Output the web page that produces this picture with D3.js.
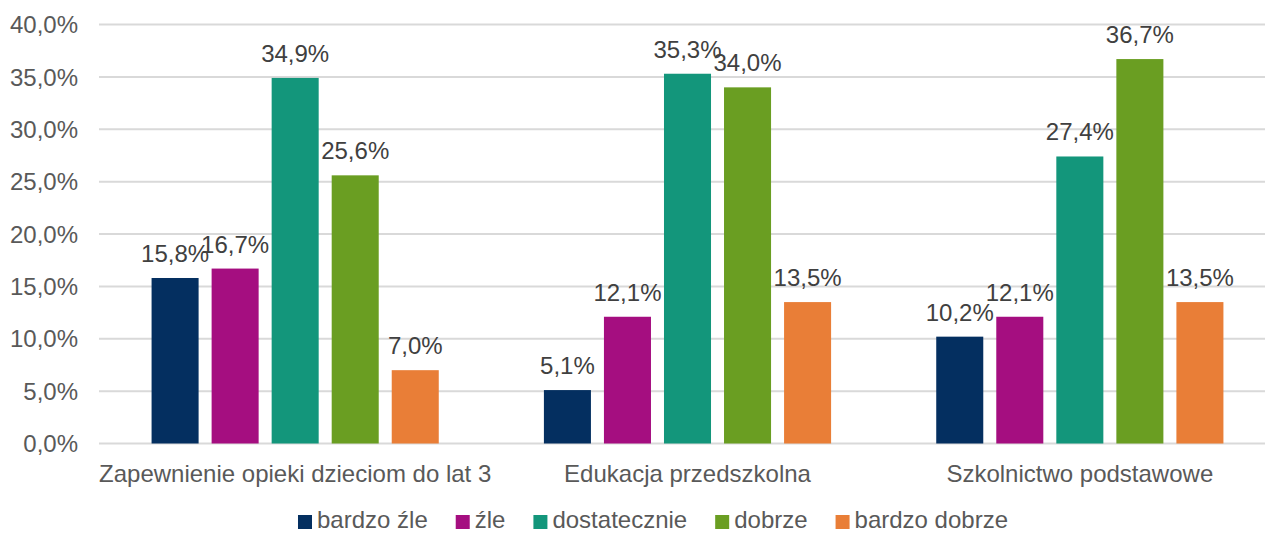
<!DOCTYPE html>
<html>
<head>
<meta charset="utf-8">
<script src="https://cdnjs.cloudflare.com/ajax/libs/d3/7.8.5/d3.min.js"></script>
<style>
  body { margin: 0; background: #fff; }
  text { font-family: "Liberation Sans", Arial, sans-serif; }
</style>
</head>
<body>
<div class="canvas"></div>
<script>
// data
const categories = ['Zapewnienie opieki dzieciom do lat 3', 'Edukacja przedszkolna', 'Szkolnictwo podstawowe'];
const series = ['bardzo źle', 'źle', 'dostatecznie', 'dobrze', 'bardzo dobrze'];
const bardzoZle = [15.8, 5.1, 10.2];
const zle = [16.7, 12.1, 12.1];
const dostatecznie = [34.9, 35.3, 27.4];
const dobrze = [25.6, 34.0, 36.7];
const bardzoDobrze = [7.0, 13.5, 13.5];
const yTicks = [0, 5, 10, 15, 20, 25, 30, 35, 40];

const values = [bardzoZle, zle, dostatecznie, dobrze, bardzoDobrze];
const colours = ['#042f60', '#a50e80', '#13967b', '#6a9e22', '#e97e37'];

const dims = {width: 1265, height: 533};
const plot = {left: 99, right: 1276, top: 24.5, bottom: 443.5};
const fontSize = 24;

const svg = d3.select('.canvas')
    .append('svg')
    .attr('width', dims.width)
    .attr('height', dims.height);

const x0 = d3.scaleBand()
    .domain(categories)
    .range([plot.left, plot.right])
    .paddingInner(0.268)
    .paddingOuter(0.134);

const x1 = d3.scaleBand()
    .domain(series)
    .range([0, x0.bandwidth()])
    .paddingInner(0.2167);

const y = d3.scaleLinear()
    .domain([0, 40])
    .range([plot.bottom, plot.top]);

const colour = d3.scaleOrdinal(series, colours);

const fmt = v => v.toFixed(1).replace('.', ',') + '%';

// gridlines
svg.append('g')
    .selectAll('line')
    .data(yTicks)
    .enter().append('line')
    .attr('x1', plot.left)
    .attr('x2', dims.width)
    .attr('y1', d => y(d))
    .attr('y2', d => y(d))
    .attr('stroke', '#d9d9d9')
    .attr('stroke-width', 2);

// y axis labels
svg.append('g')
    .selectAll('text')
    .data(yTicks)
    .enter().append('text')
    .attr('x', 78)
    .attr('y', d => y(d))
    .attr('dy', '0.36em')
    .attr('text-anchor', 'end')
    .attr('font-size', fontSize)
    .attr('fill', '#595959')
    .text(d => fmt(d));

// bars
const rows = [];
categories.forEach((c, i) => {
    series.forEach((s, j) => rows.push({cat: c, name: s, value: values[j][i]}));
});

const graph = svg.append('g');

graph.selectAll('rect')
    .data(rows)
    .enter().append('rect')
    .attr('x', d => x0(d.cat) + x1(d.name))
    .attr('y', d => y(d.value))
    .attr('width', x1.bandwidth())
    .attr('height', d => plot.bottom - y(d.value))
    .attr('fill', d => colour(d.name));

graph.selectAll('text.label')
    .data(rows)
    .enter().append('text')
    .attr('class', 'label')
    .attr('x', d => x0(d.cat) + x1(d.name) + x1.bandwidth() / 2)
    .attr('y', d => y(d.value) - 16)
    .attr('text-anchor', 'middle')
    .attr('font-size', fontSize)
    .attr('fill', '#404040')
    .text(d => fmt(d.value));

// category labels
svg.append('g')
    .selectAll('text')
    .data(categories)
    .enter().append('text')
    .attr('x', d => x0(d) + x0.bandwidth() / 2)
    .attr('y', 482)
    .attr('text-anchor', 'middle')
    .attr('font-size', fontSize)
    .attr('fill', '#595959')
    .text(d => d);

// legend
const legendGroup = svg.append('g');
const items = legendGroup.selectAll('g')
    .data(series)
    .enter().append('g');

items.append('rect')
    .attr('width', 14)
    .attr('height', 14)
    .attr('y', 515)
    .attr('fill', d => colour(d));

items.append('text')
    .attr('x', 19)
    .attr('y', 528)
    .attr('font-size', fontSize)
    .attr('fill', '#595959')
    .text(d => d);

let offset = 0;
items.each(function () {
    d3.select(this).attr('transform', `translate(${offset},0)`);
    offset += 19 + d3.select(this).select('text').node().getComputedTextLength() + 28;
});
const legendWidth = offset - 28;
legendGroup.attr('transform', `translate(${653 - legendWidth / 2},0)`);
</script>
</body>
</html>
